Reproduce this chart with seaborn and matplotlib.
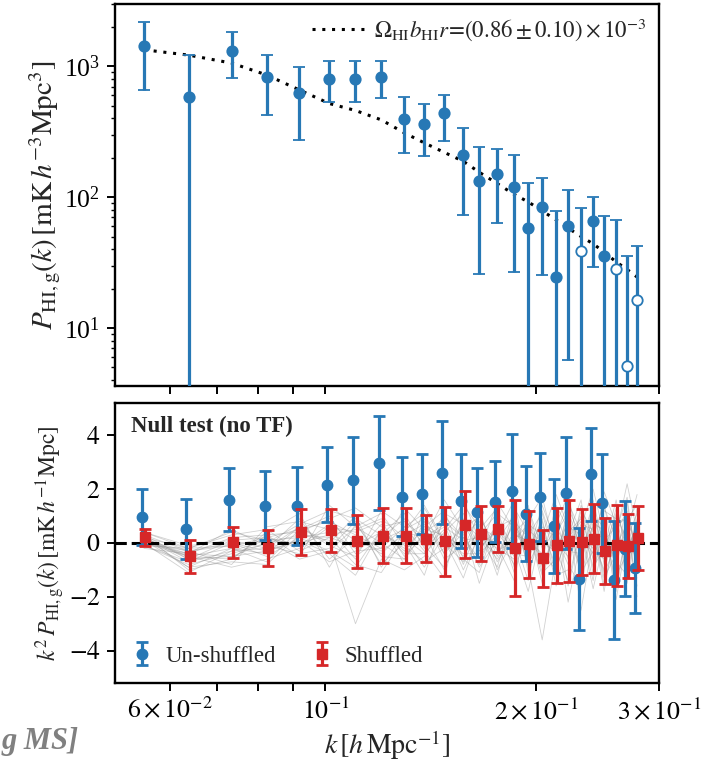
import numpy as np
import pandas as pd
import matplotlib
matplotlib.use("Agg")
import matplotlib.pyplot as plt
import seaborn as sns

# ---------------- data ----------------
k = [0.0550, 0.0637, 0.0734, 0.0824, 0.0918, 0.1013, 0.1104, 0.1202, 0.1297,
     0.1385, 0.1479, 0.1575, 0.1660, 0.1761, 0.1862, 0.1950, 0.2042, 0.2138,
     0.2224, 0.2321, 0.2415, 0.2504, 0.2605, 0.2701, 0.2791]

# top panel: |P_HI,g| and error-bar bounds (0 = bound below the axis)
p_top = [1420, 580, 1302, 824, 622, 796, 796, 824, 394, 361, 437, 209, 132,
         150, 119, 58, 84, 24.5, 60, 38.7, 66, 35.5, 28, 5.1, 16.4]
p_hi = [2200, 1213, 1818, 1213, 983, 1092, 1092, 1090, 580, 512, 601, 336, 241,
        233, 209, 128, 140, 78, 113, 82, 100, 72, 67, 35.5, 42]
p_lo = [656, 0, 810, 423, 272, 531, 531, 570, 217, 206, 267, 73, 25.8,
        63, 26.7, 0, 25.4, 0, 5.7, 0, 29, 0, 0, 0, 0]
negative = [False] * 19 + [True, False, False, True, True, True]

model = [1340, 1220, 1060, 860, 660, 520, 460, 390, 310, 260, 220, 188, 155,
         127, 105, 92, 78.5, 67, 58, 50, 44, 38, 32, 28, 24.5]
model_label = r"$\Omega_{\rm HI}b_{\rm HI}r\!=\!(0.86\pm0.10)\times10^{-3}$"

# bottom panel: null test
unshuf = [0.97, 0.53, 1.61, 1.39, 1.36, 2.17, 2.33, 2.96, 1.72, 1.83, 2.61, 1.56,
          1.14, 1.54, 1.92, 1.09, 1.71, 0.62, 1.86, -1.33, 2.55, 1.47, -1.38, -0.21, -0.93]
unshuf_err = [1.05, 1.12, 1.18, 1.27, 1.45, 1.39, 1.61, 1.75, 1.46, 1.49, 1.91, 1.76,
              1.65, 1.52, 2.12, 1.76, 1.64, 1.75, 2.08, 1.90, 1.73, 1.85, 2.19, 1.76, 1.67]
shuf = [0.21, -0.50, 0.02, -0.19, 0.41, 0.47, 0.06, 0.27, 0.27, 0.16, 0.06, 0.68,
        0.35, 0.51, -0.19, -0.05, -0.56, -0.09, 0.06, 0.04, 0.16, -0.30, -0.09, -0.11, 0.19]
shuf_err = [0.31, 0.62, 0.59, 0.67, 0.87, 0.80, 0.98, 1.03, 1.03, 0.88, 1.27, 1.25,
            1.01, 0.86, 1.79, 1.24, 1.06, 1.38, 1.52, 1.22, 1.29, 1.23, 1.49, 1.20, 1.19]

# mock (shuffled) realisations, thin grey lines
mocks = [
    [0.1, -0.3, -0.1, 0.2, 0.5, 0.8, 0.3, -0.2, 0.6, 1.1, -0.4, 0.8, 0.2, -0.9, 1.3, 0.4, -1.2, 0.7, 1.8, -0.5, 0.9, -1.6, 0.4, 1.2, -0.3],
    [0.3, -0.6, -0.5, -0.3, 0.1, -0.4, -1.2, 0.5, -0.3, 0.6, 1.2, -0.6, -1.1, 0.9, -0.2, -1.8, 0.5, -0.9, 0.3, 1.6, -1.2, 0.8, -2.1, 0.2, 1.1],
    [-0.1, -0.8, -0.4, 0.0, 0.7, 1.2, 0.9, 0.3, 1.1, -0.2, 0.5, 1.4, 0.6, 0.2, -0.8, 0.9, 1.7, -0.3, -1.4, 0.6, 2.0, 0.3, -0.6, 1.5, -0.8],
    [0.2, -0.2, 0.3, 0.5, -0.3, 0.2, -0.8, -1.1, 0.2, -0.9, 0.3, -0.2, 1.1, -0.5, 0.8, 0.2, -0.6, 1.4, 0.5, -1.1, -0.3, 1.2, 0.9, -1.5, 0.6],
    [0.0, -0.5, -0.9, -0.6, -0.2, 0.6, 0.4, 0.8, -0.5, 0.3, -1.0, 0.9, -0.3, 1.5, 0.5, -0.4, 0.9, -1.6, 0.2, 0.8, -0.9, -0.2, 1.6, -0.7, -1.3],
    [0.4, -0.1, 0.1, -0.2, 0.9, -0.6, 0.2, -0.4, 0.4, 1.4, 0.1, -1.3, 0.4, -0.1, -1.4, 1.3, -0.2, 0.5, -2.2, 0.1, 1.4, -0.8, 0.3, 2.2, 0.4],
    [0.1, -0.9, -0.7, -0.8, 0.3, 0.1, -3.0, -0.6, -1.0, -0.5, 0.8, 0.2, -0.6, 0.6, 0.9, -0.9, -3.6, -0.5, 0.9, -2.5, 0.2, 1.5, -1.2, -0.4, 0.8],
    [-0.2, -0.4, 0.2, 0.3, 0.4, 0.9, 1.3, 0.6, 0.8, 0.2, 1.6, 0.5, 1.0, -0.3, 0.1, 0.7, 0.3, 1.8, 0.6, 0.3, -0.4, 1.9, 0.7, 0.9, 1.4],
    [0.2, -0.7, -0.3, 0.1, -0.6, -0.3, 0.6, 1.1, -0.1, -0.7, -0.2, 0.6, -1.5, 0.4, -0.5, 0.3, 1.1, -0.7, 1.2, -0.3, 0.6, -1.3, -0.4, 0.5, -1.6],
    [0.0, -0.3, 0.0, -0.5, 0.2, 0.4, -0.2, 0.1, 0.5, 0.9, -0.6, -0.1, 0.3, 1.1, 0.6, -0.3, 0.2, 0.9, -0.6, 1.2, 0.4, -0.5, 1.3, -0.2, 0.3],
    [0.3, -1.0, -0.6, 0.4, 1.1, -0.9, 0.7, -0.5, -0.6, 0.4, 0.9, -0.8, 0.7, -1.2, 1.1, -0.6, 0.6, 0.2, -0.8, -1.6, 0.7, 0.5, -0.9, 1.0, -2.0],
    [-0.1, -0.2, 0.4, 0.1, 0.0, 0.3, 0.5, 0.9, 0.2, -0.4, 0.4, 1.1, -0.2, 0.5, -0.3, 1.4, -0.9, 0.3, 1.5, 0.4, -1.7, 0.1, 0.6, -0.8, 0.9],
    [0.1, -0.5, -0.2, -0.4, 0.6, -0.1, -0.5, 0.2, 0.9, -0.1, -0.9, 0.3, 0.8, -0.7, 0.3, 0.1, -0.4, -1.0, 0.4, 0.9, 0.2, -1.1, -0.1, 0.7, -0.5],
    [0.2, -0.6, 0.1, 0.2, -0.1, 0.7, 0.1, -0.3, 0.3, 0.7, 0.2, -0.4, -0.4, 0.3, 1.6, -1.1, 0.4, 0.6, -0.3, -0.4, 1.0, 0.6, -1.5, 0.4, 1.8],
    [0.0, -0.4, -0.5, 0.0, 0.3, 0.2, -0.1, 0.4, -0.2, 0.1, 0.6, 0.1, 0.2, -0.2, -0.6, 0.5, 0.0, -0.3, 0.8, -0.2, 0.3, 0.2, -0.3, -0.1, 0.2],
    [0.2, -0.9, -0.2, -0.7, 0.5, 1.0, -0.4, 0.7, -0.8, 1.3, 0.0, -0.7, 1.3, -1.0, 0.2, -1.4, 1.2, -0.4, 0.6, -0.9, 1.6, -0.3, 1.1, -1.1, 0.5],
    [0.1, -0.4, 0.5, -0.1, -0.4, -0.2, 0.8, -0.8, 0.0, -1.2, 1.0, 0.2, -0.8, 0.8, -1.1, 0.6, -1.5, 1.1, -0.2, 1.0, -0.6, 0.9, -1.8, 0.6, -0.9],
    [0.3, -0.3, -0.8, 0.6, 0.8, 0.5, -0.6, 1.2, 0.6, -0.3, -1.3, 1.6, 0.1, -0.4, 0.7, -0.2, 0.8, -1.2, -1.0, 1.4, 0.1, -1.0, 0.5, 1.7, -1.1],
    [-0.1, -0.7, 0.0, -0.3, 0.1, -0.7, -0.3, -0.2, 1.3, 0.5, 0.3, -0.5, 0.5, 1.3, -0.9, 1.0, -0.8, 0.4, 1.1, -1.3, 0.8, 0.4, -0.7, -1.2, 1.3],
    [0.2, -0.5, -0.6, 0.3, -0.5, 1.4, 0.6, 0.0, -0.6, 0.8, -0.4, 0.4, -0.9, 0.1, 1.0, -0.8, 0.3, 0.8, -1.6, 0.5, -1.4, 1.3, 0.2, -0.3, 0.7],
    [0.0, -1.1, -0.3, -0.2, 0.6, 0.0, 1.0, -0.9, 0.4, 0.2, 0.7, -1.0, 0.3, -0.6, 0.4, 0.9, -1.1, -0.6, 1.3, 0.2, -0.2, -0.6, 1.0, 0.1, -0.6],
    [0.4, -0.2, -0.1, 0.1, 0.2, -0.3, -0.9, 0.5, -0.4, -0.4, 1.1, 0.7, -0.3, 0.7, -0.4, -0.5, 1.4, 0.0, -0.5, 0.7, 0.5, -1.8, 0.8, 0.9, -0.2],
]

xticks = [0.06, 0.07, 0.08, 0.09, 0.1, 0.2, 0.3]
xticklabels = [r"$6\times10^{-2}$", "", "", "", r"$10^{-1}$", r"$2\times10^{-1}$", r"$3\times10^{-1}$"]
yticks2 = [-4, -2, 0, 2, 4]
yticklabels2 = [r"$-4$", r"$-2$", r"$0$", r"$2$", r"$4$"]

# ---------------- style ----------------
sns.set_theme(style="ticks")
plt.rcParams.update({
    "font.family": ["Liberation Serif", "DejaVu Serif"],
    "mathtext.fontset": "stix",
    "axes.edgecolor": "black",
    "axes.linewidth": 1.7,
    "xtick.color": "black", "ytick.color": "black",
    "xtick.major.width": 1.4, "ytick.major.width": 1.4,
    "xtick.minor.width": 1.0, "ytick.minor.width": 1.0,
    "xtick.major.size": 5.5, "ytick.major.size": 5.5,
    "ytick.minor.size": 3,
})

BLUE = "#2778b5"
RED = "#d62728"
TICKSIZE = 18.5

fig = plt.figure(figsize=(7.08, 7.66), dpi=100)
ax1 = fig.add_axes([0.1624, 0.4961, 0.7684, 0.4987])
ax2 = fig.add_axes([0.1624, 0.1084, 0.7684, 0.3655])

# ---------------- top panel ----------------
karr = np.array(k)
P = np.array(p_top)
hi = np.array(p_hi)
lo = np.array(p_lo, dtype=float)
lo_b = np.where(lo <= 0, 1e-3, lo)
neg = np.array(negative)

sns.lineplot(x=karr, y=np.array(model), ax=ax1, color="black", lw=2.2,
             label=model_label)
ax1.lines[-1].set_dashes((1.0, 2.2))
for mask, face in [(~neg, BLUE), (neg, "white")]:
    ax1.errorbar(karr[mask], P[mask],
                 yerr=[P[mask] - lo_b[mask], hi[mask] - P[mask]],
                 fmt="o", color=BLUE, mfc=face, mec=BLUE,
                 mew=1.3, ms=7.5, elinewidth=2.3, capsize=4.5, capthick=2.0, zorder=3)

ax1.set_xscale("log")
ax1.set_yscale("log")
ax1.set_xlim(0.05, 0.3)
ax1.set_ylim(3.6, 3000)
ax1.set_xticks(xticks)
ax1.set_xticklabels([""] * len(xticks))
ax1.xaxis.set_minor_locator(matplotlib.ticker.NullLocator())
ax1.tick_params(axis="both", which="major", labelsize=TICKSIZE, pad=5)
ax1.set_ylabel(r"$P_{\rm HI,g}(k)\,[{\rm mK}\,h^{-3}{\rm Mpc}^3]$", fontsize=21, labelpad=1)
ax1.legend(loc="upper right", frameon=False, fontsize=16.5, handlelength=2.4,
           borderaxespad=0.15, handletextpad=0.3)

# ---------------- bottom panel ----------------
rows = []
for i, m in enumerate(mocks):
    for kk, v in zip(k, m):
        rows.append({"k": kk, "v": v, "real": i})
dfm = pd.DataFrame(rows)
sns.lineplot(data=dfm, x="k", y="v", units="real", estimator=None, ax=ax2,
             color="0.55", lw=0.6, alpha=0.4, legend=False, zorder=1)

ax2.axhline(0, color="black", ls="--", lw=2.2, zorder=2)
ax2.errorbar(karr * 0.993, unshuf, yerr=unshuf_err, fmt="o", color=BLUE, ms=7.5,
             elinewidth=2.3, capsize=4.5, capthick=2.0, zorder=3, label="Un-shuffled")
ax2.errorbar(karr * 1.004, shuf, yerr=shuf_err, fmt="s", color=RED, ms=6.5,
             elinewidth=2.3, capsize=4.5, capthick=2.0, zorder=4, label="Shuffled")

ax2.set_xscale("log")
ax2.set_xlim(0.05, 0.3)
ax2.set_ylim(-5.2, 5.2)
ax2.set_xticks(xticks)
ax2.set_xticklabels(xticklabels, fontsize=TICKSIZE)
ax2.xaxis.set_minor_locator(matplotlib.ticker.NullLocator())
ax2.set_yticks(yticks2)
ax2.set_yticklabels(yticklabels2, fontsize=TICKSIZE)
ax2.tick_params(axis="both", which="major", labelsize=TICKSIZE, pad=5)
ax2.set_xlabel(r"$k\,[h\,{\rm Mpc}^{-1}]$", fontsize=20, labelpad=3)
ax2.set_ylabel(r"$k^2\,P_{\rm HI,g}(k)\,[{\rm mK}\,h^{-1}{\rm Mpc}]$", fontsize=17, labelpad=1)
ax2.text(0.03, 0.955, "Null test (no TF)", transform=ax2.transAxes, fontsize=16.5,
         fontweight="bold", va="top", ha="left")
ax2.legend(loc="lower left", ncol=2, frameon=False, fontsize=16.5, handlelength=1.0,
           columnspacing=1.5, handletextpad=0.5, borderaxespad=0.3)

fig.text(0.002, 1 - 741 / 766, "g MS]", fontsize=22, color="0.5",
         fontweight="bold", fontstyle="italic", va="center", ha="left")

fig.savefig("out.png", dpi=100)
